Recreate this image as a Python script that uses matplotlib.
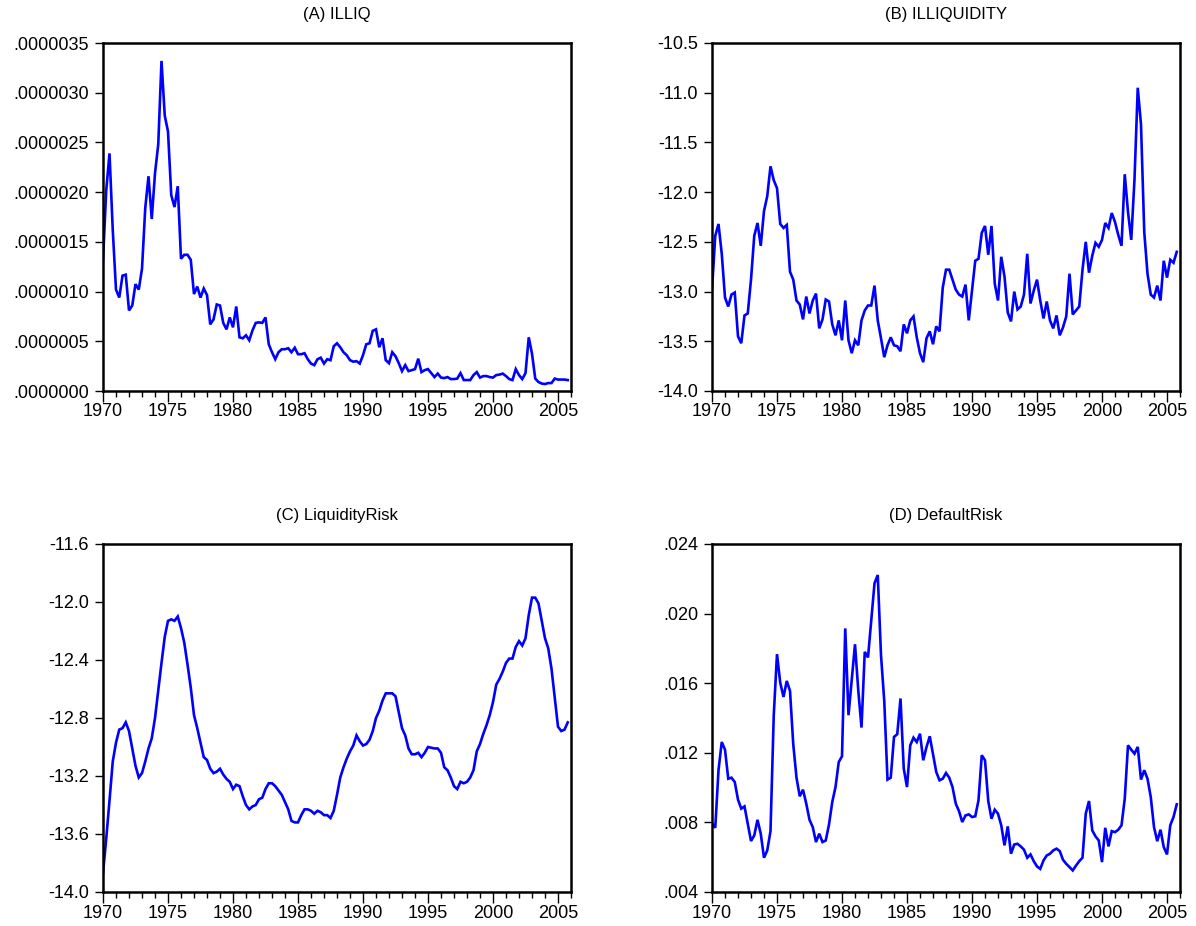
import numpy as np
import matplotlib
matplotlib.use("Agg")
import matplotlib.pyplot as plt
from matplotlib.ticker import MultipleLocator, FuncFormatter, FixedLocator

plt.rcParams['font.family'] = ['Liberation Sans', 'DejaVu Sans']

# Quarterly data 1970Q1 - 2005Q4
start_year = 1970

illiq = [1.317, 2.02, 2.39, 1.62, 1.02, 0.94, 1.16, 1.17, 0.81, 0.86,
         1.075, 1.02, 1.23, 1.84, 2.16, 1.73, 2.19, 2.48, 3.32, 2.77,
         2.61, 1.97, 1.85, 2.06, 1.33, 1.37, 1.37, 1.32, 0.975, 1.05,
         0.94, 1.03, 0.965, 0.67, 0.72, 0.87, 0.86, 0.685, 0.62, 0.74,
         0.64, 0.85, 0.54, 0.53, 0.56, 0.51, 0.61, 0.685, 0.69, 0.685,
         0.74, 0.47, 0.39, 0.32, 0.39, 0.42, 0.42, 0.43, 0.39, 0.435,
         0.37, 0.37, 0.38, 0.32, 0.276, 0.26, 0.32, 0.335, 0.276, 0.32,
         0.31, 0.45, 0.48, 0.44, 0.39, 0.36, 0.31, 0.295, 0.30, 0.276,
         0.36, 0.47, 0.48, 0.605, 0.62, 0.44, 0.53, 0.31, 0.28, 0.39,
         0.35, 0.28, 0.20, 0.26, 0.20, 0.21, 0.22, 0.325, 0.19,
         0.21, 0.22, 0.18, 0.14, 0.175, 0.135, 0.13, 0.14, 0.12, 0.12,
         0.125, 0.18, 0.11, 0.11, 0.11, 0.16, 0.19, 0.135, 0.15, 0.15,
         0.14, 0.135, 0.16, 0.165, 0.175, 0.15, 0.12, 0.11, 0.22, 0.16,
         0.12, 0.18, 0.54, 0.375, 0.125, 0.09, 0.075, 0.07, 0.08, 0.08,
         0.125, 0.115, 0.115, 0.115, 0.11]  # in 1e-6

illiquidity = [-12.98, -12.44, -12.32, -12.62, -13.06, -13.15, -13.03, -13.01, -13.45, -13.52,
               -13.24, -13.22, -12.88, -12.44, -12.31, -12.54, -12.19, -12.04, -11.74, -11.88,
               -11.96, -12.32, -12.36, -12.33, -12.80, -12.88, -13.09, -13.13, -13.28, -13.05,
               -13.22, -13.09, -13.02, -13.37, -13.28, -13.08, -13.10, -13.33, -13.44, -13.29,
               -13.49, -13.09, -13.49, -13.62, -13.49, -13.54, -13.29, -13.19, -13.14, -13.14,
               -12.94,
               -13.29, -13.47, -13.66, -13.54, -13.46, -13.54, -13.55, -13.60, -13.33, -13.42,
               -13.29, -13.25, -13.46, -13.62, -13.71, -13.47, -13.40, -13.53, -13.35, -13.40,
               -12.96, -12.78, -12.78, -12.88, -12.98, -13.03, -13.05, -12.93, -13.29, -12.99,
               -12.69, -12.67, -12.41, -12.34, -12.63, -12.34, -12.92, -13.09, -12.65, -12.85,
               -13.21, -13.30, -13.00, -13.18, -13.15, -13.03,
               -12.62, -13.12, -12.99, -12.88, -13.09, -13.27, -13.10, -13.29, -13.37, -13.24,
               -13.44, -13.36, -13.25, -12.82, -13.23, -13.19, -13.15, -12.78, -12.50, -12.81,
               -12.64, -12.51, -12.55, -12.48, -12.31, -12.36, -12.21, -12.30, -12.43, -12.54,
               -11.82, -12.20, -12.48, -11.87, -10.95, -11.32, -12.40, -12.82, -13.03, -13.06,
               -12.94, -13.09, -12.69, -12.86, -12.68, -12.71, -12.60]

liquidity_risk = [-13.87, -13.63, -13.37, -13.10, -12.97, -12.88, -12.87, -12.83, -12.89, -13.01,
                  -13.13, -13.21, -13.18, -13.10, -13.01, -12.94, -12.80, -12.61, -12.42, -12.24,
                  -12.13, -12.12, -12.13, -12.10, -12.18, -12.28, -12.43, -12.59, -12.78, -12.87,
                  -12.97, -13.07, -13.09, -13.15, -13.18, -13.17, -13.15, -13.19, -13.22, -13.24,
                  -13.29, -13.26, -13.27, -13.34, -13.40, -13.43, -13.41, -13.40, -13.36, -13.35,
                  -13.29, -13.25, -13.25, -13.27, -13.30, -13.33, -13.38, -13.43, -13.51, -13.52,
                  -13.52, -13.47, -13.43, -13.43, -13.44, -13.46, -13.44, -13.45, -13.47, -13.47,
                  -13.49, -13.44, -13.33, -13.21, -13.14, -13.08, -13.03, -12.99, -12.92, -12.96,
                  -12.99, -12.98, -12.95, -12.89, -12.80, -12.75, -12.68, -12.63, -12.63, -12.63,
                  -12.65, -12.76, -12.87, -12.92, -13.01, -13.05,
                  -13.05, -13.04, -13.07, -13.04, -13.00, -13.005, -13.01, -13.01, -13.04, -13.14,
                  -13.16, -13.21, -13.27, -13.29, -13.24, -13.25, -13.24, -13.21, -13.16, -13.03,
                  -12.98, -12.91, -12.85, -12.78, -12.69, -12.57, -12.53, -12.48, -12.42, -12.39,
                  -12.39, -12.31, -12.27, -12.30, -12.25, -12.09, -11.97, -11.97, -12.01, -12.13,
                  -12.25, -12.32, -12.46, -12.66, -12.86, -12.89, -12.88, -12.83]

default_risk = [0.00796, 0.00769, 0.0110, 0.01262, 0.01218, 0.01051, 0.01057, 0.01032, 0.00931, 0.00879,
                0.00892, 0.00792, 0.00693, 0.00725, 0.00815, 0.00735, 0.00597, 0.00639, 0.0075, 0.01416,
                0.01767, 0.01602, 0.01521, 0.01613, 0.01556, 0.01249, 0.01057, 0.0095, 0.00988, 0.00908,
                0.00815, 0.00773, 0.00687, 0.00735, 0.00687, 0.00696, 0.00788, 0.00917, 0.01003, 0.01147,
                0.0118, 0.01915, 0.01416, 0.01617, 0.01824, 0.0156, 0.01345, 0.0178, 0.01748, 0.01963,
                0.02174,
                0.02222, 0.01761, 0.01498, 0.01046, 0.01057, 0.01291, 0.01307, 0.01512, 0.01109, 0.01003,
                0.01243, 0.01287, 0.01262, 0.0131, 0.01157, 0.01233, 0.01295, 0.01191, 0.0109, 0.01042,
                0.01051, 0.01084, 0.01057, 0.01003, 0.00908, 0.00865, 0.00802, 0.0084, 0.00846, 0.00831,
                0.00835, 0.00927, 0.01186, 0.01157, 0.00923, 0.00821, 0.00873, 0.0085, 0.00783, 0.00668,
                0.00777, 0.0062, 0.00673, 0.00677, 0.00662,
                0.00643, 0.00597, 0.00616, 0.00577, 0.00547, 0.00533, 0.00581, 0.0061, 0.0062, 0.00639,
                0.00649, 0.00635, 0.00585, 0.00562, 0.00543, 0.00524, 0.00552, 0.00577, 0.00597, 0.0085,
                0.00923, 0.00754, 0.0072, 0.00696, 0.00572, 0.00769, 0.00662, 0.0075, 0.00744, 0.00758,
                0.00783, 0.00936, 0.01243, 0.01218, 0.01195, 0.01234, 0.01046, 0.011, 0.01051, 0.00946,
                0.00773, 0.00692, 0.00758, 0.00658, 0.00616, 0.00783, 0.00831, 0.00904]

titles = ["(A) ILLIQ", "(B) ILLIQUIDITY", "(C) LiquidityRisk", "(D) DefaultRisk"]
year_ticks = [1970, 1975, 1980, 1985, 1990, 1995, 2000, 2005]

W, H = 1196, 926
fig = plt.figure(figsize=(W / 100, H / 100), dpi=100)
fig.patch.set_facecolor('white')

boxes = [(103, 571, 43, 391), (712, 1180, 43, 391), (103, 571, 544, 892), (712, 1180, 544, 892)]
series = [np.array(illiq) * 1e-6, np.array(illiquidity), np.array(liquidity_risk), np.array(default_risk)]
ylims = [(0, 3.5e-6), (-14.0, -10.5), (-14.0, -11.6), (0.004, 0.024)]
ysteps = [0.5e-6, 0.5, 0.4, 0.004]


def strip_zero(fmt):
    def f(v, pos):
        s = fmt.format(v)
        if s.startswith("0."):
            s = s[1:]
        elif s.startswith("-0."):
            s = "-" + s[2:]
        return s
    return f


fmts = [strip_zero("{:.7f}"), strip_zero("{:.1f}"), strip_zero("{:.1f}"), strip_zero("{:.3f}")]

for k in range(4):
    l, r, t, b = boxes[k]
    ax = fig.add_axes([l / W, 1 - b / H, (r - l) / W, (b - t) / H])
    vals = series[k]
    x = start_year + 0.25 * np.arange(len(vals))
    ax.plot(x, vals, color='#0000FF', lw=1.9, solid_joinstyle='miter')
    ax.set_xlim(1970, 2006)
    ax.set_ylim(*ylims[k])
    ax.xaxis.set_major_locator(FixedLocator(year_ticks))
    ax.xaxis.set_minor_locator(MultipleLocator(1))
    ax.yaxis.set_major_locator(MultipleLocator(ysteps[k]))
    ax.yaxis.set_major_formatter(FuncFormatter(fmts[k]))
    ax.tick_params(axis='x', which='major', direction='out', length=8, width=1, labelsize=13, pad=1, top=False)
    ax.tick_params(axis='x', which='minor', direction='out', length=4, width=1, top=False)
    ax.tick_params(axis='y', which='major', direction='out', length=6, width=1, labelsize=13, pad=4, right=False)
    for sp in ax.spines.values():
        sp.set_linewidth(1.8)
        sp.set_color('black')
    ax.set_title(titles[k], fontsize=12, pad=17)

fig.savefig("out.png", dpi=100, facecolor='white')
